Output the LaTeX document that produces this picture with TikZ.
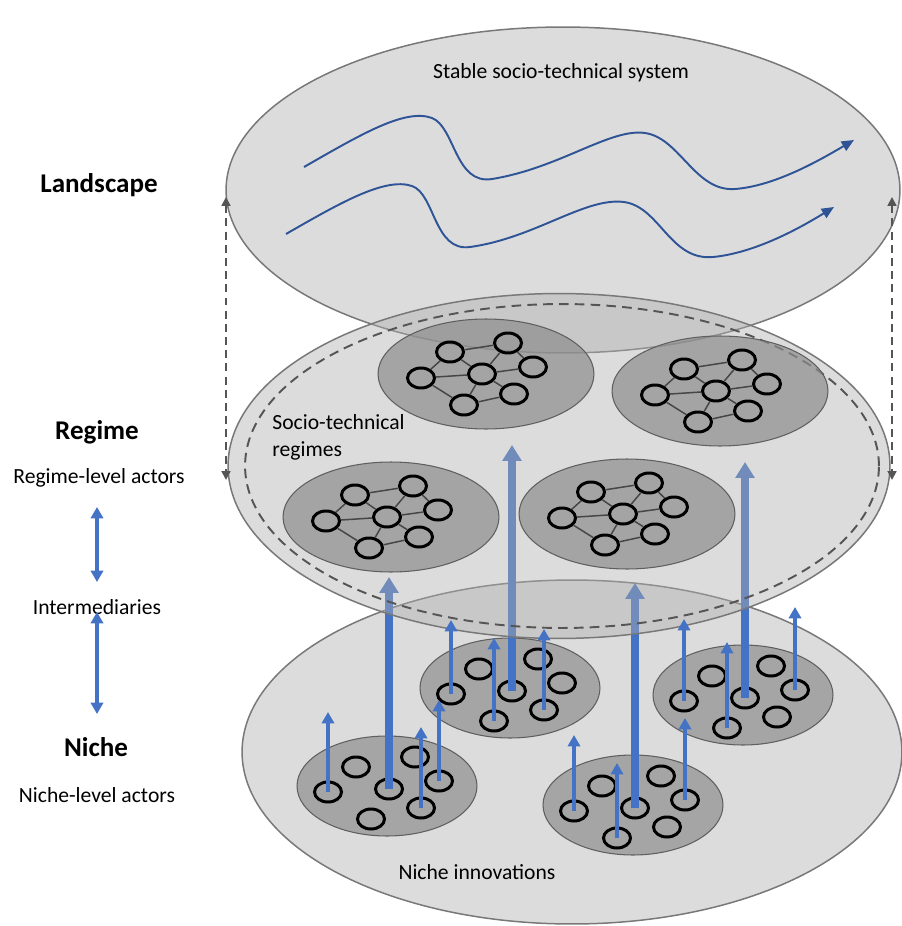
\documentclass[tikz,border=0pt]{standalone}
\usepackage{fontspec}
\setmainfont{Carlito}
\usepackage{tikz}
\usetikzlibrary{shapes.geometric}
\usetikzlibrary{arrows.meta}
\definecolor{tierfill}{RGB}{174,174,174}
\definecolor{tieredge}{RGB}{120,120,120}
\definecolor{clusterfill}{RGB}{165,165,165}
\definecolor{clusterglass}{RGB}{141,141,141}
\definecolor{clusteredge}{RGB}{95,95,95}
\definecolor{linkgray}{RGB}{70,70,70}
\definecolor{flowblue}{RGB}{68,114,196}
\definecolor{trendblue}{RGB}{47,84,150}
\definecolor{dashgray}{RGB}{85,85,85}
\tikzstyle{tier}=[shape=ellipse,draw=tieredge,line width=0.85pt,fill=tierfill,fill opacity=0.43,inner sep=0pt]
\tikzstyle{regime core}=[shape=ellipse,draw=dashgray,line width=1.1pt,dash pattern=on 5.5pt off 3.5pt,inner sep=0pt,minimum width=12.68cm,minimum height=6.48cm]
\tikzstyle{niche cluster}=[shape=ellipse,draw=clusteredge,line width=0.6pt,fill=clusterfill,inner sep=0pt,minimum width=3.6cm,minimum height=2.0cm]
\tikzstyle{regime cluster}=[niche cluster,fill=clusterglass,fill opacity=0.7,minimum width=4.32cm,minimum height=2.2cm]
\tikzstyle{actor}=[shape=ellipse,draw=black,line width=1.7pt,inner sep=0pt,minimum width=0.54cm,minimum height=0.4cm]
\tikzstyle{link}=[draw=linkgray,line width=0.85pt]
\tikzstyle{small flow}=[flowblue,line width=1.9pt,-{Triangle[width=7pt,length=6.5pt]}]
\tikzstyle{big flow}=[flowblue,line width=4.5pt,-{Triangle[width=10.5pt,length=9pt]}]
\tikzstyle{two way}=[flowblue,line width=1.9pt,{Triangle[width=7pt,length=6.5pt]}-{Triangle[width=7pt,length=6.5pt]}]
\tikzstyle{trend}=[trendblue,line width=1.1pt,-{Triangle[width=6pt,length=7pt]}]
\tikzstyle{influence}=[dashgray,line width=1.1pt,dash pattern=on 4.5pt off 3pt,{Triangle[width=5pt,length=5pt]}-{Triangle[width=5pt,length=5pt]}]
\tikzstyle{plain text}=[inner sep=0pt,font=\fontsize{12.3}{15.3}\selectfont]
\tikzstyle{tier title}=[inner sep=0pt,font=\fontsize{15.4}{18}\selectfont\bfseries]

\begin{document}
\begin{tikzpicture}[x=0.02cm,y=-0.02cm]
	\useasboundingbox (0,0) rectangle (902,926);
	% niche level
	\node [style=tier,minimum width=13.2cm,minimum height=6.88cm] (niche tier) at (572,752) {};
	\foreach \n/\x/\y in {n1/387/786,n2/510/688,n3/633/805,n4/743/695} {
		\node [style=niche cluster] (\n) at (\x,\y) {};
		\begin{scope}[shift={(\x,\y)}]
			\node [style=actor] (\n a) at (-31,-19) {};
			\node [style=actor] (\n b) at (28,-29) {};
			\node [style=actor] (\n c) at (-59,6) {};
			\node [style=actor] (\n d) at (2,3) {};
			\node [style=actor] (\n e) at (52,-5) {};
			\node [style=actor] (\n f) at (34,22) {};
			\node [style=actor] (\n g) at (-16,33) {};
		\end{scope}
	}
	\foreach \s/\t in {n1d/577,n2d/445,n3d/583,n4d/462} {
		\coordinate (\s tip) at (\s |- 0,\t);
		\draw [style=big flow] (\s.center) -- (\s tip);
	}
	% landscape level
	\node [style=tier,minimum width=13.48cm,minimum height=6.52cm] (landscape tier) at (563,190) {};
	\draw [style=trend] (304,167) .. controls (360,135) and (405,108) .. (432,118)
		.. controls (455,127) and (455,185) .. (492,179)
		.. controls (560,168) and (610,128) .. (645,133)
		.. controls (680,138) and (695,192) .. (735,189)
		.. controls (775,186) and (820,160) .. (854,140);
	\draw [style=trend] (286,234) .. controls (340,203) and (385,177) .. (412,186)
		.. controls (435,194) and (434,252) .. (470,247)
		.. controls (535,238) and (585,197) .. (624,202)
		.. controls (660,207) and (670,261) .. (713,257)
		.. controls (755,253) and (800,228) .. (834,207);
	% regime level
	\node [style=tier,minimum width=13.24cm,minimum height=6.9cm] (regime tier) at (559,466) {};
	\node [style=regime core] (regime ring) at (562,466) {};
	\foreach \n/\x/\y in {r1/486/374,r2/720/391,r3/391/517,r4/627/514} {
		\node [style=regime cluster] (\n) at (\x,\y) {};
		\begin{scope}[shift={(\x,\y)}]
			\node [style=actor] (\n a) at (-36,-22) {};
			\node [style=actor] (\n b) at (22,-31) {};
			\node [style=actor] (\n c) at (-65,4) {};
			\node [style=actor] (\n d) at (-4,0) {};
			\node [style=actor] (\n e) at (47,-7) {};
			\node [style=actor] (\n f) at (28,20) {};
			\node [style=actor] (\n g) at (-22,31) {};
		\end{scope}
		\foreach \p/\q in {a/b,a/c,a/d,c/d,c/g,d/b,d/e,b/e,d/g,g/f,d/f}
			\draw [style=link] (\n\p) -- (\n\q);
	}
	\coordinate (left top) at (226,197);
	\coordinate (left bottom) at (226,480);
	\coordinate (right top) at (892,197);
	\coordinate (right bottom) at (892,480);
	\draw [style=influence] (left top) -- (left bottom);
	\draw [style=influence] (right top) -- (right bottom);
	% niche to regime
	\foreach \s/\t in {n1c/712,n1f/727,n1e/700,n2c/620,n2g/638,n2f/629,n3c/735,n3g/763,n3e/718,n4c/619,n4g/642,n4e/607} {
		\coordinate (\s tip) at (\s |- 0,\t);
		\draw [style=small flow] (\s.center) -- (\s tip);
	}
	% labels
	\node [style=tier title] (landscape) at (99,185) {Landscape};
	\node [style=tier title] (regime) at (97,432) {Regime};
	\node [style=plain text] (regime actors) at (99,478) {Regime-level actors};
	\node [style=plain text] (intermediaries) at (97,607) {Intermediaries};
	\node [style=tier title] (niche) at (96,747) {Niche};
	\node [style=plain text] (niche actors) at (97,795) {Niche-level actors};
	\node [style=plain text] (stable) at (561,73) {Stable socio-technical system};
	\node [style=plain text,anchor=west,align=left] (st regimes) at (272,437) {Socio-technical\\regimes};
	\node [style=plain text] (niche innovations) at (477,872) {Niche innovations};
	\coordinate (up one) at (97,507);
	\coordinate (down one) at (97,582);
	\coordinate (up two) at (97,612);
	\coordinate (down two) at (97,714);
	\draw [style=two way] (up one) -- (down one);
	\draw [style=two way] (up two) -- (down two);
\end{tikzpicture}
\end{document}
